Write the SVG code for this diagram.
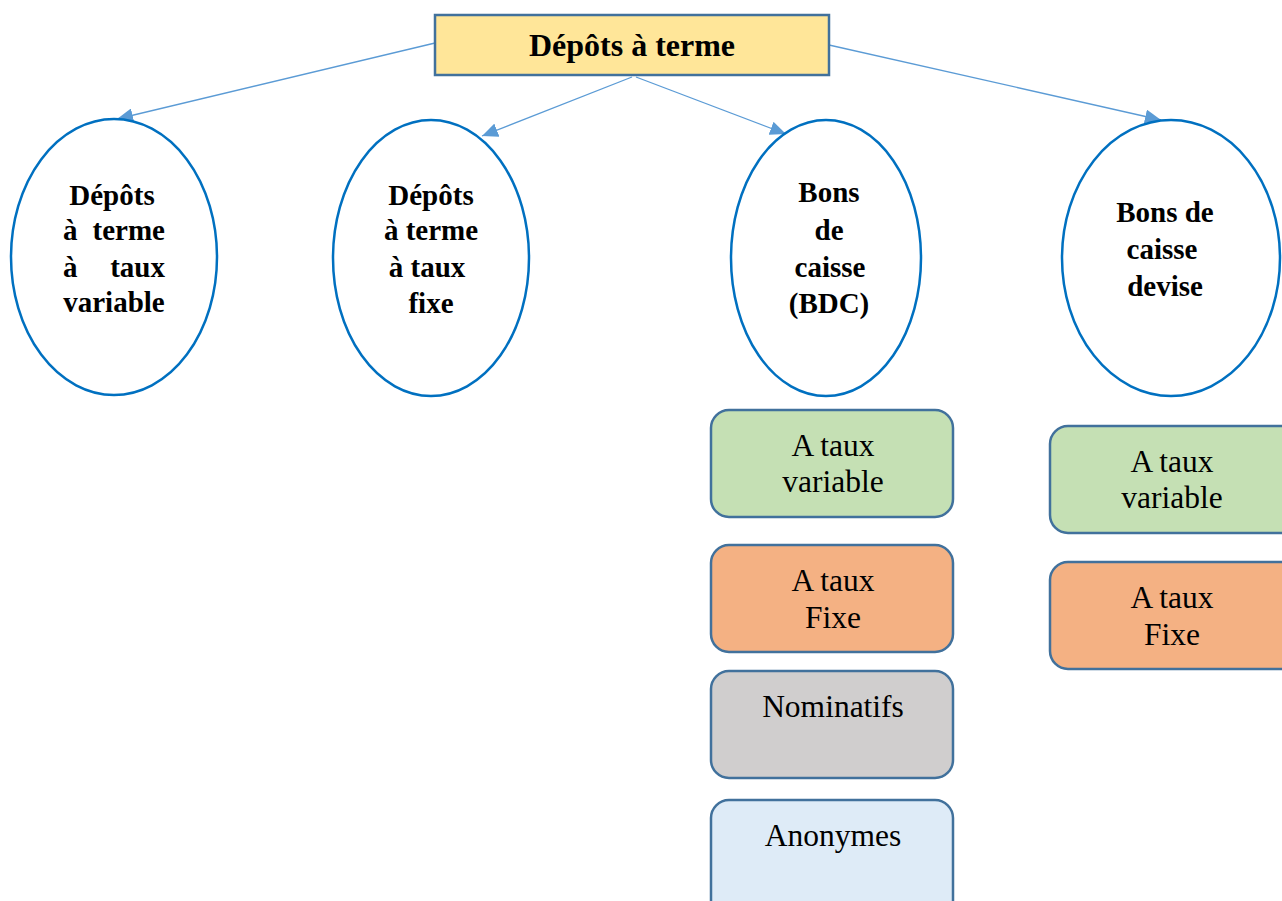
<svg xmlns="http://www.w3.org/2000/svg" width="1282" height="901" viewBox="0 0 1282 901">
  <style>
    .title { font-family: "Liberation Serif", "Times New Roman", serif; font-weight: bold; font-size: 32px; fill: #000; text-anchor: middle; }
    .oval-text { font-family: "Liberation Serif", "Times New Roman", serif; font-weight: bold; font-size: 29px; fill: #000; text-anchor: middle; }
    .start { text-anchor: start; }
    .end { text-anchor: end; }
    .box-text { font-family: "Liberation Serif", "Times New Roman", serif; font-size: 31.5px; fill: #000; text-anchor: middle; }
    .oval { fill: #fff; stroke: #0070C0; stroke-width: 2.5; }
    .box { stroke: #41719C; stroke-width: 2.5; }
    .link { stroke: #5B9BD5; stroke-width: 1.3; fill: none; marker-end: url(#arrow); }
  </style>
  <defs>
    <marker id="arrow" markerUnits="userSpaceOnUse" markerWidth="18" markerHeight="14" refX="16" refY="7" orient="auto">
      <path d="M0,0 L16,7 L0,14 Z" fill="#5B9BD5"/>
    </marker>
  </defs>

  <rect width="1282" height="901" fill="#fff"/>

  <!-- connectors -->
  <g id="connectors">
    <line class="link" x1="435" y1="43" x2="117" y2="119"/>
    <line class="link" x1="632" y1="77" x2="482" y2="136"/>
    <line class="link" x1="636" y1="77" x2="786" y2="134"/>
    <line class="link" x1="829" y1="45" x2="1161" y2="120"/>
  </g>

  <!-- root -->
  <g id="root">
    <rect x="435" y="15" width="394" height="60" fill="#FFE699" stroke="#41719C" stroke-width="2.5"/>
    <text class="title" x="632" y="56">Dépôts à terme</text>
  </g>

  <!-- category ovals -->
  <g id="dat-variable">
    <ellipse class="oval" cx="114" cy="257" rx="103" ry="138"/>
    <text class="oval-text" x="112" y="205">Dépôts</text>
    <text class="oval-text start" x="63" y="240">à</text>
    <text class="oval-text end" x="165" y="240">terme</text>
    <text class="oval-text start" x="63" y="277">à</text>
    <text class="oval-text end" x="165" y="277">taux</text>
    <text class="oval-text" x="114" y="312">variable</text>
  </g>

  <g id="dat-fixe">
    <ellipse class="oval" cx="431" cy="258" rx="98" ry="138"/>
    <text class="oval-text" x="431" y="205">Dépôts</text>
    <text class="oval-text" x="431" y="240">à terme</text>
    <text class="oval-text" x="427" y="277">à taux</text>
    <text class="oval-text" x="431" y="313">fixe</text>
  </g>

  <g id="bdc">
    <ellipse class="oval" cx="826" cy="258" rx="95" ry="138"/>
    <text class="oval-text" x="829" y="202">Bons</text>
    <text class="oval-text" x="829" y="240">de</text>
    <text class="oval-text" x="830" y="277">caisse</text>
    <text class="oval-text" x="829" y="313">(BDC)</text>
  </g>

  <g id="bdc-devise">
    <ellipse class="oval" cx="1171" cy="258" rx="109" ry="138"/>
    <text class="oval-text" x="1165" y="222">Bons de</text>
    <text class="oval-text" x="1162" y="259">caisse</text>
    <text class="oval-text" x="1165" y="296">devise</text>
  </g>

  <!-- BDC sub-types -->
  <g id="bdc-variable">
    <rect class="box" x="711" y="410" width="242" height="107" rx="18" fill="#C5E0B4"/>
    <text class="box-text" x="833" y="456">A taux</text>
    <text class="box-text" x="833" y="492">variable</text>
  </g>
  <g id="bdc-fixe">
    <rect class="box" x="711" y="545" width="242" height="107" rx="18" fill="#F4B183"/>
    <text class="box-text" x="833" y="591">A taux</text>
    <text class="box-text" x="833" y="628">Fixe</text>
  </g>
  <g id="bdc-nominatifs">
    <rect class="box" x="711" y="671" width="242" height="107" rx="18" fill="#D0CECE"/>
    <text class="box-text" x="833" y="717">Nominatifs</text>
  </g>
  <g id="bdc-anonymes">
    <rect class="box" x="711" y="800" width="242" height="120" rx="18" fill="#DEEBF7"/>
    <text class="box-text" x="833" y="846">Anonymes</text>
  </g>

  <!-- foreign-currency BDC sub-types -->
  <g id="devise-variable">
    <rect class="box" x="1050" y="426" width="250" height="107" rx="18" fill="#C5E0B4"/>
    <text class="box-text" x="1172" y="472">A taux</text>
    <text class="box-text" x="1172" y="508">variable</text>
  </g>
  <g id="devise-fixe">
    <rect class="box" x="1050" y="562" width="250" height="107" rx="18" fill="#F4B183"/>
    <text class="box-text" x="1172" y="608">A taux</text>
    <text class="box-text" x="1172" y="645">Fixe</text>
  </g>
</svg>
